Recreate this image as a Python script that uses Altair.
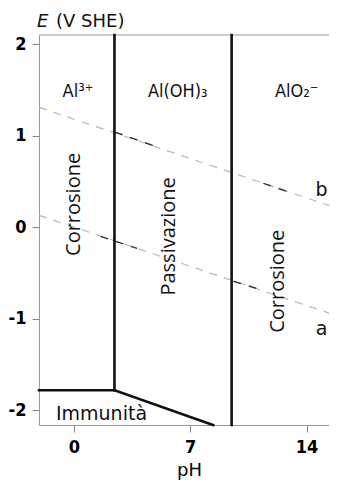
import altair as alt
import pandas as pd

# ---- data ----
ph_domain = [-2.1, 15.8]
e_domain = [-2.16, 2.1]

# water stability lines (a: H2/H2O, b: O2/H2O)
water_ph = [-2.1, 15.8]
water_a = [0.13, -0.965]
water_b = [1.31, 0.21]

# darker-looking stretches of the dashed lines
dark_ph = [2.47, 4.8, 11.4, 13.0, 1.6, 3.8, 9.6, 11.2]
dark_e = [1.04, 0.89, 0.48, 0.38, -0.10, -0.23, -0.59, -0.68]
dark_id = ["b1", "b1", "b2", "b2", "a1", "a1", "a2", "a2"]

# boundary segments (pH1, E1, pH2, E2)
seg_ph1 = [2.44, 9.49, -2.1, 2.44]
seg_e1 = [-1.78, -2.16, -1.78, -1.78]
seg_ph2 = [2.44, 9.49, 2.44, 8.38]
seg_e2 = [2.1, 2.1, -1.78, -2.16]

# top frame line
frame_ph = [-2.1, 16.5]
frame_e = [2.1, 2.1]

species = ["Al³⁺", "Al(OH)₃", "AlO₂⁻"]
species_ph = [0.24, 6.25, 13.4]
species_e = [1.42, 1.42, 1.42]

regions = ["Corrosione", "Passivazione", "Corrosione"]
regions_ph = [0.0, 5.75, 12.3]
regions_e = [0.25, -0.1, -0.59]

immunity_label = ["Immunità"]
immunity_ph = [-1.08]
immunity_e = [-2.1]

line_labels = ["a", "b"]
line_labels_ph = [14.9, 14.9]
line_labels_e = [-1.18, 0.345]

x_ticks = [0, 7, 14]
y_ticks = [-2, -1, 0, 1, 2]

FONT = "DejaVu Sans Condensed"
FONT2 = "DejaVu Sans"

# ---- frames ----
water_df = pd.DataFrame({
    "pH": water_ph * 2,
    "E": water_a + water_b,
    "line": ["a"] * 2 + ["b"] * 2,
})
dark_df = pd.DataFrame({"pH": dark_ph, "E": dark_e, "id": dark_id})
seg_df = pd.DataFrame({"ph1": seg_ph1, "e1": seg_e1, "ph2": seg_ph2, "e2": seg_e2})
frame_df = pd.DataFrame({"pH": frame_ph, "E": frame_e})
species_df = pd.DataFrame({"t": species, "pH": species_ph, "E": species_e})
regions_df = pd.DataFrame({"t": regions, "pH": regions_ph, "E": regions_e})
imm_df = pd.DataFrame({"t": immunity_label, "pH": immunity_ph, "E": immunity_e})
ll_df = pd.DataFrame({"t": line_labels, "pH": line_labels_ph, "E": line_labels_e})

PLOT_W = 290
xscale = alt.Scale(domain=ph_domain, nice=False, zero=False, range=[0, 297.5])
yscale = alt.Scale(domain=e_domain, nice=False, zero=False)

xaxis = alt.Axis(values=x_ticks, title="pH", grid=False, tickSize=7,
                 tickColor="#888", domainColor="#999", labelFont=FONT,
                 labelFontSize=18, labelFontWeight="bold", labelColor="#000",
                 labelPadding=6, titleFont=FONT2, titleFontSize=18,
                 titleFontWeight="normal", titleColor="#000", titlePadding=5,
                 titleX=150)
yaxis = alt.Axis(values=y_ticks, title=None, grid=False, tickSize=7,
                 tickColor="#888", domainColor="#999", labelFont=FONT,
                 labelFontSize=18, labelFontWeight="bold", labelColor="#000",
                 labelPadding=6, labelExpr="'' + datum.value")

base_x = alt.X("pH:Q", scale=xscale, axis=xaxis)
base_y = alt.Y("E:Q", scale=yscale, axis=yaxis)

water = alt.Chart(water_df).mark_line(
    color="#b8b8b8", strokeWidth=1.2, strokeDash=[8, 7]
).encode(x=base_x, y=base_y, detail="line:N")

dark = alt.Chart(dark_df).mark_line(
    color="#333", strokeWidth=1.4, strokeDash=[8, 8]
).encode(x=alt.X("pH:Q", scale=xscale), y=alt.Y("E:Q", scale=yscale), detail="id:N")

frame = alt.Chart(frame_df).mark_line(color="#999", strokeWidth=1.2).encode(
    x=alt.X("pH:Q", scale=xscale), y=alt.Y("E:Q", scale=yscale)
)

segs = alt.Chart(seg_df).mark_rule(
    color="#111", strokeWidth=2.6, strokeCap="square"
).encode(
    x=alt.X("ph1:Q", scale=xscale),
    y=alt.Y("e1:Q", scale=yscale),
    x2="ph2:Q",
    y2="e2:Q",
)

sp = alt.Chart(species_df).mark_text(
    font=FONT, fontSize=18, color="#111", baseline="alphabetic", align="center"
).encode(x=alt.X("pH:Q", scale=xscale), y=alt.Y("E:Q", scale=yscale), text="t:N")

rg = alt.Chart(regions_df).mark_text(
    font="Open Sans", fontSize=20, color="#111", angle=270,
    baseline="middle", align="center"
).encode(x=alt.X("pH:Q", scale=xscale), y=alt.Y("E:Q", scale=yscale), text="t:N")

im = alt.Chart(imm_df).mark_text(
    font=FONT2, fontSize=19, color="#111", baseline="alphabetic", align="left"
).encode(x=alt.X("pH:Q", scale=xscale), y=alt.Y("E:Q", scale=yscale), text="t:N")

ll = alt.Chart(ll_df).mark_text(
    font=FONT2, fontSize=19, color="#111", baseline="alphabetic", align="center"
).encode(x=alt.X("pH:Q", scale=xscale), y=alt.Y("E:Q", scale=yscale), text="t:N")

title_e = alt.Chart(pd.DataFrame({"t": ["E"]})).mark_text(
    font=FONT2, fontSize=18, fontStyle="italic", color="#111",
    baseline="alphabetic", align="left"
).encode(x=alt.value(-2), y=alt.value(-8.5), text="t:N")

title_rest = alt.Chart(pd.DataFrame({"t": ["(V SHE)"]})).mark_text(
    font=FONT2, fontSize=18, color="#111", baseline="alphabetic", align="left"
).encode(x=alt.value(17), y=alt.value(-8.5), text="t:N")

chart = alt.layer(water, dark, frame, segs, sp, rg, im, ll, title_e, title_rest).properties(
    width=PLOT_W, height=390, autosize="none",
    padding={"left": 31, "top": 27, "right": 0, "bottom": 56},
).configure_view(strokeWidth=0)

chart.save("out.html", embed_options={"renderer": "svg", "actions": False})
